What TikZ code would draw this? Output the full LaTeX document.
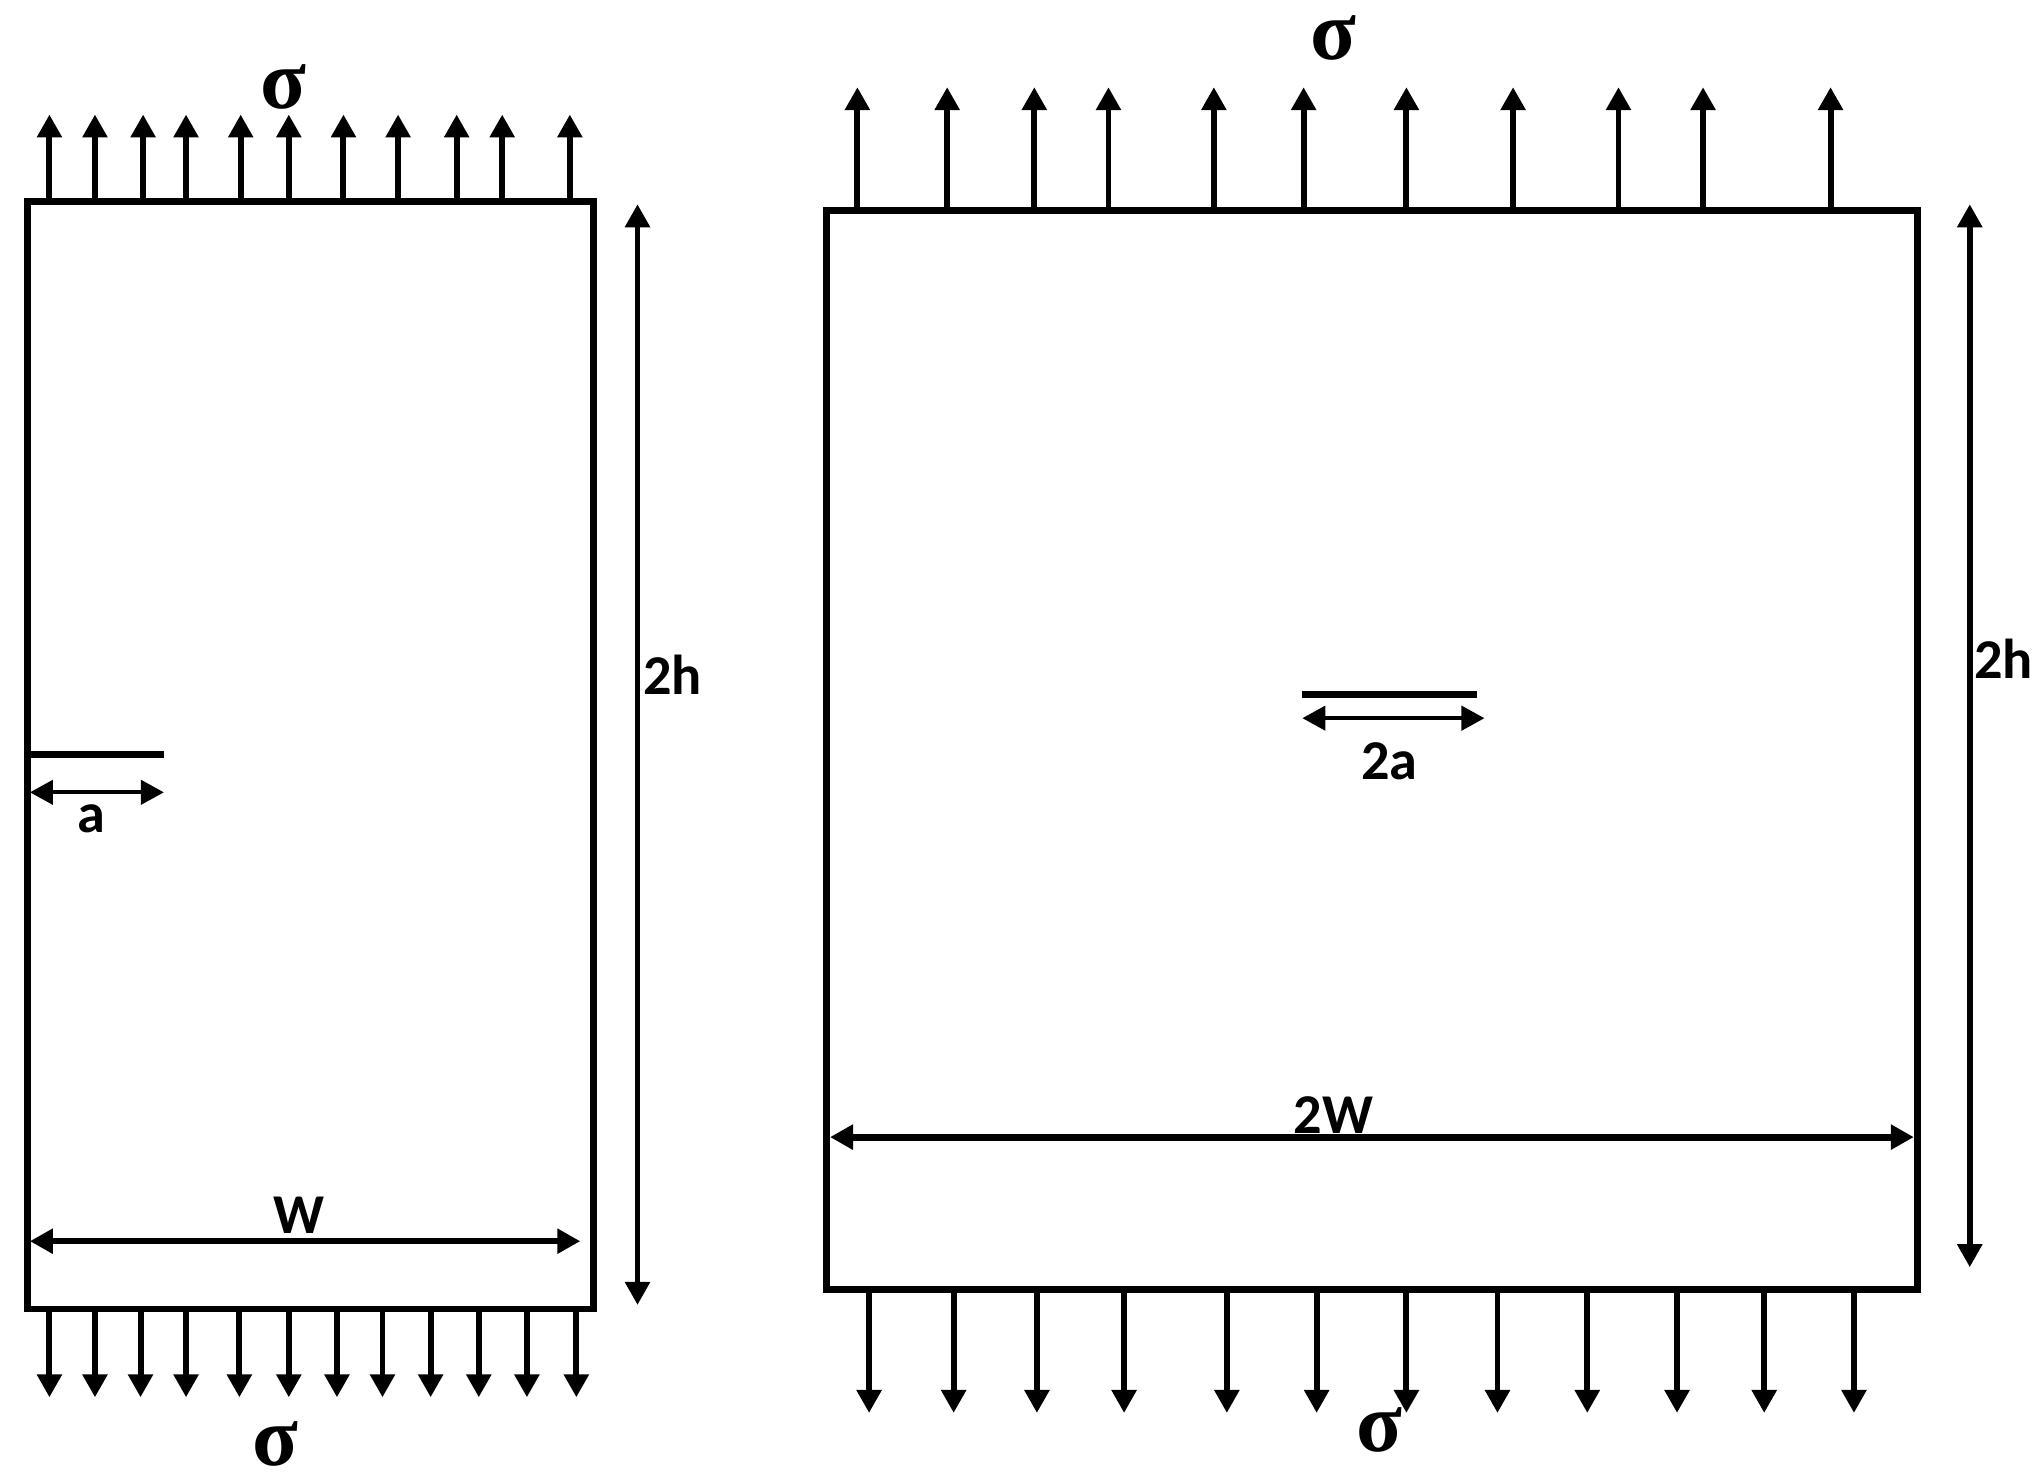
\documentclass[tikz,border=0pt]{standalone}
\usepackage{fontspec}
\setmainfont{Carlito}
\newfontfamily\sigmafont{Liberation Serif}
\usetikzlibrary{arrows.meta}

\tikzset{
  load/.style={line width=1.7pt, -{Triangle[length=2.3mm,width=2.4mm]}},
  dimen/.style={line width=1.6pt, {Triangle[length=2.3mm,width=2.4mm]}-{Triangle[length=2.3mm,width=2.4mm]}},
  plate/.style={line width=1.9pt},
  lbl/.style={font=\bfseries\fontsize{16}{16}\selectfont, inner sep=0pt},
  stresslbl/.style={font=\sigmafont\bfseries\fontsize{24}{24}\selectfont, inner sep=0pt}
}

\begin{document}
\begin{tikzpicture}[x=0.1301mm,y=-0.1301mm]
          \useasboundingbox (0,0) rectangle (1568,1133);
          % edge crack plate
          \draw[plate] (21,155) rectangle (456,1006);
          \foreach \x in {38,73,110,143,185,222,264,306,351,386,438}
                \draw[load] (\x,155) -- (\x,88);
          \foreach \x in {38,73,108,143,184,222,259,294,331,368,405,443}
                \draw[load] (\x,1006) -- (\x,1074);
          \draw[plate] (21,580) -- (126,580);
          \draw[dimen, line width=1.2pt] (23,609) -- (126,609);
          \draw[dimen] (23,954) -- (446,954);
          \draw[dimen] (490,157) -- (490,1003);
          \node[lbl] (acrack) at (70,629) {a};
          \node[lbl] (wleft) at (230,934) {W};
          \node[lbl] (hleft) at (517,519) {2h};
          \node[stresslbl] (sigtopleft) at (218,67) {σ};
          \node[stresslbl] (sigbotleft) at (212,1110) {σ};
          % centre crack plate
          \draw[plate] (635,162) rectangle (1474,991);
          \foreach \x in {659,728,795,852,933,1002,1081,1163,1244,1309,1407}
                \draw[load] (\x,162) -- (\x,67);
          \foreach \x in {668,733,797,864,943,1012,1081,1151,1220,1289,1356,1425}
                \draw[load] (\x,991) -- (\x,1086);
          \draw[plate] (1001,534) -- (1135,534);
          \draw[dimen, line width=1.2pt] (1001,552) -- (1141,552);
          \draw[dimen, line width=2pt] (638,874) -- (1471,874);
          \draw[dimen] (1514,157) -- (1514,974);
          \node[lbl] (acentre) at (1068,585) {2a};
          \node[lbl] (wright) at (1025,857) {2W};
          \node[lbl] (hright) at (1540,506) {2h};
          \node[stresslbl] (sigtopright) at (1025,29) {σ};
          \node[stresslbl] (sigbotright) at (1060,1099) {σ};
        \end{tikzpicture}
\end{document}
